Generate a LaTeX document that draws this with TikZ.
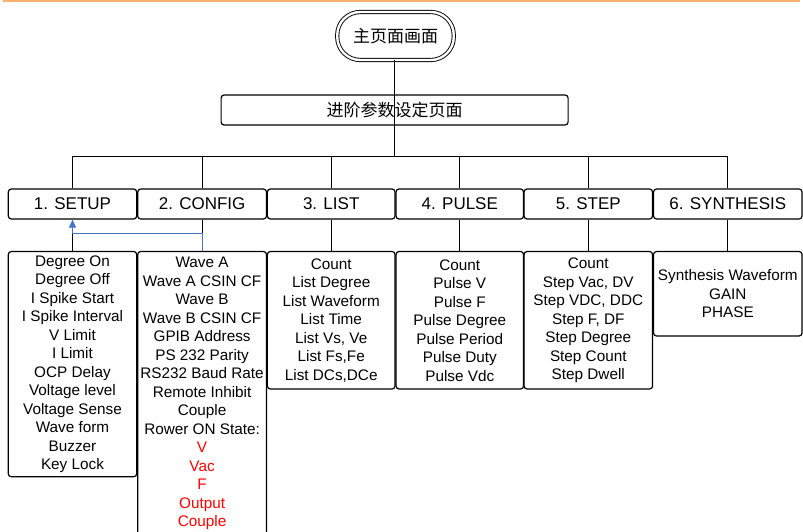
\documentclass[tikz,border=0pt]{standalone}
\usepackage{fontspec}
\setmainfont{Liberation Sans}
\newfontfamily\cjk{Noto Sans CJK SC}
\usetikzlibrary{arrows.meta}
\definecolor{topline}{RGB}{247,176,110}
\definecolor{arrowblue}{RGB}{68,114,196}
\definecolor{redtxt}{RGB}{255,0,0}
\tikzset{
  catbox/.style={draw, line width=1.2pt, rounded corners=3pt, minimum height=30pt, inner sep=0pt, font=\fontsize{17}{20}\selectfont},
  listbox/.style={draw, line width=1.2pt, rounded corners=3pt, inner sep=0pt, align=center, font=\fontsize{15.3}{18.5}\selectfont},
  conn/.style={line width=1.2pt},
  backarrow/.style={draw=arrowblue, line width=0.9pt, -{Triangle[length=8pt,width=7pt,fill=arrowblue]}},
}
\begin{document}
\begin{tikzpicture}[x=1pt,y=-1pt]
\clip (0,0) rectangle (803,532);
\fill[white] (0,0) rectangle (803,532);
\fill[topline] (3,0) rectangle (800,2.3);

% top nodes
\node[draw, double, double distance=2.4pt, line width=0.9pt, rounded corners=23pt,
      minimum width=116.5pt, minimum height=48pt, inner sep=0pt,
      font=\cjk\fontsize{17}{20}\selectfont] (home) at (395.5,36) {主页面画面};
\node[draw, line width=1.2pt, rounded corners=3pt, minimum width=347pt, minimum height=30pt,
      inner sep=0pt, font=\cjk\fontsize{17}{20}\selectfont] (adv) at (394.6,110) {进阶参数设定页面};

% category boxes
\node[catbox, minimum width=128.4pt] (c1) at (72.5,204) {1. SETUP};
\node[catbox, minimum width=128.8pt] (c2) at (202.1,204) {2. CONFIG};
\node[catbox, minimum width=127.7pt] (c3) at (331.2,204) {3. LIST};
\node[catbox, minimum width=127.5pt] (c4) at (459.8,204) {4. PULSE};
\node[catbox, minimum width=128.5pt] (c5) at (588.3,204) {5. STEP};
\node[catbox, minimum width=148.5pt] (c6) at (727.8,204) {6. SYNTHESIS};

% detail boxes
\node[listbox, minimum width=128.4pt, minimum height=225.2pt] (d1) at (72.5,364.1)
  {Degree On\\Degree Off\\I Spike Start\\I Spike Interval\\V Limit\\I Limit\\OCP Delay\\Voltage level\\Voltage Sense\\Wave form\\Buzzer\\Key Lock};
\node[listbox, minimum width=128.8pt, minimum height=284pt] (d2) at (202.1,393.5)
  {Wave A\\Wave A CSIN CF\\Wave B\\Wave B CSIN CF\\GPIB Address\\PS 232 Parity\\RS232 Baud Rate\\Remote Inhibit\\Couple\\Rower ON State:\\\textcolor{redtxt}{V}\\\textcolor{redtxt}{Vac}\\\textcolor{redtxt}{F}\\\textcolor{redtxt}{Output}\\\textcolor{redtxt}{Couple}};
\node[listbox, minimum width=127.7pt, minimum height=137.5pt] (d3) at (331.2,320.25)
  {Count\\List Degree\\List Waveform\\List Time\\List Vs, Ve\\List Fs,Fe\\List DCs,DCe};
\node[listbox, minimum width=127.5pt, minimum height=137.5pt] (d4) at (459.8,320.25)
  {Count\\Pulse V\\Pulse F\\Pulse Degree\\Pulse Period\\Pulse Duty\\Pulse Vdc};
\node[listbox, minimum width=128.5pt, minimum height=137.5pt] (d5) at (588.3,320.25)
  {Count\\Step Vac, DV\\Step VDC, DDC\\Step F, DF\\Step Degree\\Step Count\\Step Dwell};
\node[listbox, minimum width=148.5pt, minimum height=84.5pt] (d6) at (727.8,293.75)
  {Synthesis Waveform\\GAIN\\PHASE};

% connectors
\coordinate (bus) at (394.5,156.7);
\coordinate (jn) at (0,233.3);
\draw[conn] (home.south -| bus) -- (adv.south -| bus);
\draw[conn] (adv.south -| bus) -- (bus);
\draw[conn] (c1.north) |- (c6.north |- bus) -- (c6.north);
\draw[conn] (c2.north) -- (c2.north |- bus);
\draw[conn] (c3.north) -- (c3.north |- bus);
\draw[conn] (c4.north) -- (c4.north |- bus);
\draw[conn] (c5.north) -- (c5.north |- bus);
\draw[conn] (c3.south) -- (d3.north);
\draw[conn] (c4.south) -- (d4.north);
\draw[conn] (c5.south) -- (d5.north);
\draw[conn] (c6.south) -- (d6.north);
\draw[conn] (d1.north) -- (d1.north |- jn);
\draw[conn] (c2.south) -- (c2.south |- jn);
\draw[backarrow] (d2.north) |- (c1.south |- jn) -- (c1.south);
\end{tikzpicture}
\end{document}
